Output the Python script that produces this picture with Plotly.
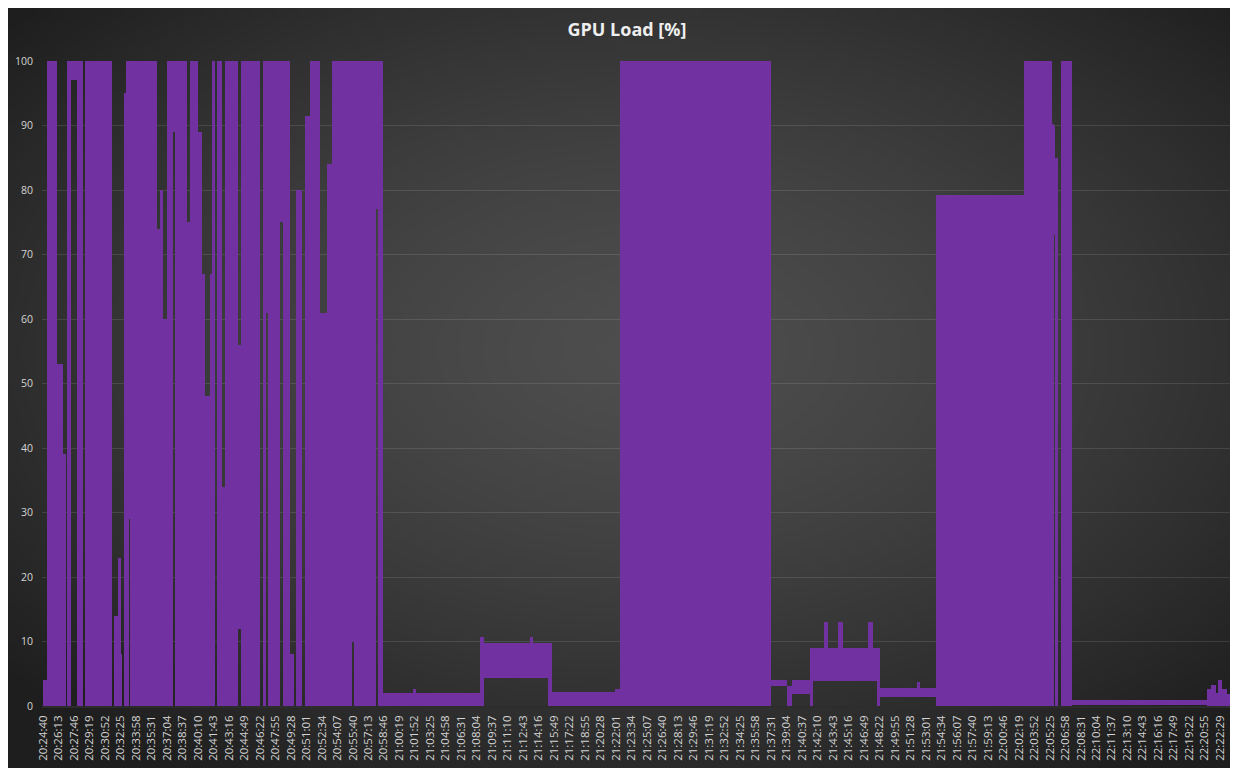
import base64
import struct
import zlib

import numpy as np
import plotly.graph_objects as go

# ---------------- data ----------------
tick_labels = [
    "20:24:40", "20:26:13", "20:27:46", "20:29:19", "20:30:52", "20:32:25", "20:33:58",
    "20:35:31", "20:37:04", "20:38:37", "20:40:10", "20:41:43", "20:43:16", "20:44:49",
    "20:46:22", "20:47:55", "20:49:28", "20:51:01", "20:52:34", "20:54:07", "20:55:40",
    "20:57:13", "20:58:46", "21:00:19", "21:01:52", "21:03:25", "21:04:58", "21:06:31",
    "21:08:04", "21:09:37", "21:11:10", "21:12:43", "21:14:16", "21:15:49", "21:17:22",
    "21:18:55", "21:20:28", "21:22:01", "21:23:34", "21:25:07", "21:26:40", "21:28:13",
    "21:29:46", "21:31:19", "21:32:52", "21:34:25", "21:35:58", "21:37:31", "21:39:04",
    "21:40:37", "21:42:10", "21:43:43", "21:45:16", "21:46:49", "21:48:22", "21:49:55",
    "21:51:28", "21:53:01", "21:54:34", "21:56:07", "21:57:40", "21:59:13", "22:00:46",
    "22:02:19", "22:03:52", "22:05:25", "22:06:58", "22:08:31", "22:10:04", "22:11:37",
    "22:13:10", "22:14:43", "22:16:16", "22:17:49", "22:19:22", "22:20:55", "22:22:29",
]

# Elapsed seconds (from 20:24:40) at which each stretch of samples starts,
# with the lowest and highest GPU load [%] seen in that stretch.
seg_start = [
    0, 24, 84, 120, 138, 144, 168, 204, 240, 252,
    414, 426, 450, 456, 468, 474, 486, 498, 516, 522,
    684, 702, 720, 744, 781, 793, 865, 883, 931, 955,
    973, 1003, 1015, 1033, 1045, 1075, 1093, 1171, 1189, 1303,
    1321, 1339, 1351, 1423, 1441, 1483, 1507, 1519, 1555, 1573,
    1603, 1663, 1705, 1735, 1855, 1867, 1999, 2011, 2041, 2221,
    2239, 2624, 2648, 2924, 2942, 3032, 3056, 3434, 3464, 4371,
    4467, 4497, 4605, 4623, 4689, 4713, 4773, 4803, 4953, 4983,
    5007, 5025, 5247, 5265, 5362, 5890, 6058, 6070, 6076, 6094,
    6112, 6178, 6989, 7013, 7043, 7055, 7079, 7109,
]
seg_low = [
    0, 0, 0, 0, 0, 0, 97, 0, 0, 0,
    0, 0, 0, 0, 0, 0, 0, 0, 29, 0,
    0, 0, 0, 0, 89, 0, 0, 0, 0, 0,
    0, 0, 0, 0, 0, 0, 0, 12, 0, 0,
    0, 61, 0, 75, 0, 0, 0, 0, 0, 0,
    0, 0, 0, 0, 10, 0, 77, 0, 0, 0,
    0, 0, 4.3, 4.3, 4.3, 0, 0, 0, 0, 3.1,
    0, 1.9, 0, 3.8, 3.8, 3.8, 3.8, 3.8, 3.8, 3.8,
    0, 1.4, 1.4, 1.4, 0, 0, 0, 73, 0, 0,
    0, 0.2, 0, 0, 0, 0, 0, 0,
]
seg_high = [
    4, 100, 53, 39, 0, 100, 100, 100, 0, 100,
    0, 14, 0, 23, 8, 0, 95, 100, 100, 100,
    74, 80, 60, 100, 100, 100, 75, 100, 89, 67,
    48, 67, 100, 0, 100, 34, 100, 56, 100, 0,
    100, 100, 100, 100, 100, 8, 0, 80, 0, 91.5,
    100, 61, 84, 100, 100, 100, 100, 100, 2.0, 2.6,
    2.0, 10.7, 9.8, 10.7, 9.8, 9.8, 2.1, 2.6, 100, 4.1,
    3.1, 4.1, 9.0, 9.0, 13.0, 9.0, 13.0, 9.0, 13.0, 9.0,
    9.0, 2.8, 3.7, 2.8, 79.2, 100, 90.3, 90, 85, 0,
    100, 0.9, 2.6, 3.2, 2.0, 4.1, 2.6, 1.8,
]
record_end = 7139  # elapsed seconds at the right edge of the record

y_ticks = [0, 10, 20, 30, 40, 50, 60, 70, 80, 90, 100]

# ---------------- derived ----------------
def to_sec(s):
    h, m, sec = (int(p) for p in s.split(":"))
    return h * 3600 + m * 60 + sec

t0 = to_sec(tick_labels[0])
tick_vals = [to_sec(s) - t0 for s in tick_labels]

starts = np.array(seg_start, dtype=float)
ends = np.append(starts[1:], record_end)
widths = ends - starts
centers = starts + widths / 2.0
lows = np.array(seg_low, dtype=float)
heights = np.array(seg_high, dtype=float) - lows

# ---------------- background gradient image ----------------
def make_png(img):
    h, w, _ = img.shape
    raw = b"".join(b"\x00" + img[i].tobytes() for i in range(h))

    def chunk(tag, data):
        c = struct.pack(">I", len(data)) + tag + data
        return c + struct.pack(">I", zlib.crc32(tag + data) & 0xFFFFFFFF)

    return (b"\x89PNG\r\n\x1a\n"
            + chunk(b"IHDR", struct.pack(">IIBBBBB", w, h, 8, 2, 0, 0, 0))
            + chunk(b"IDAT", zlib.compress(raw, 9))
            + chunk(b"IEND", b""))

GW, GH = 310, 190
yy, xx = np.mgrid[0:GH, 0:GW]
nx = xx / (GW - 1)
ny = yy / (GH - 1)
r = np.sqrt(((nx - 0.52) / 0.62) ** 2 + ((ny - 0.45) / 0.62) ** 2)
v = 78 - 42 * np.clip(r, 0, 1.3) ** 1.4
v = np.clip(v, 30, 90).astype(np.uint8)
img = np.stack([v, v, v], axis=-1)
bg_src = "data:image/png;base64," + base64.b64encode(make_png(img)).decode()

# ---------------- figure ----------------
# The page places the figure 8px from the top-left corner of the window.
W, H = 1230, 760
L, R, T, B = 34, 8, 53, 62
pw, ph = W - L - R, H - T - B

def px_to_paper_x(px):
    return (px - L) / pw

def py_to_paper_y(py):
    return (H - B - py) / ph

PURPLE = "#7131A1"

fig = go.Figure()
fig.add_trace(go.Bar(
    x=centers,
    y=heights,
    base=lows,
    width=widths,
    marker=dict(color=PURPLE, line=dict(width=0)),
    hoverinfo="skip",
    showlegend=False,
))

fig.update_layout(
    width=W,
    height=H,
    margin=dict(l=L, r=R, t=T, b=B, pad=0),
    paper_bgcolor="#2e2e2e",
    plot_bgcolor="rgba(0,0,0,0)",
    bargap=0,
    title=dict(
        text="<b>GPU Load [%]</b>",
        x=619 / W, xref="container", xanchor="center",
        y=1 - 22 / H, yref="container", yanchor="middle",
        font=dict(family="Open Sans, Roboto, sans-serif", size=18, color="#eeeeee"),
    ),
    images=[dict(
        source=bg_src,
        xref="paper", yref="paper",
        x=px_to_paper_x(0), y=py_to_paper_y(0),
        sizex=px_to_paper_x(W) - px_to_paper_x(0),
        sizey=py_to_paper_y(0) - py_to_paper_y(H),
        xanchor="left", yanchor="top",
        sizing="stretch", layer="below",
    )],
    font=dict(family="Open Sans, Roboto, sans-serif", color="#d4d4d4"),
)

fig.update_xaxes(
    type="linear",
    range=[-6, 7127],
    tickmode="array",
    tickvals=tick_vals,
    ticktext=tick_labels,
    tickangle=-90,
    tickfont=dict(size=11.5, color="#d4d4d4"),
    ticks="outside",
    ticklen=3,
    tickcolor="rgba(0,0,0,0)",
    showgrid=False,
    zeroline=False,
    showline=True,
    linecolor="rgba(45,45,45,0.9)",
    linewidth=1.5,
)
fig.update_yaxes(
    range=[0, 100],
    tickmode="array",
    tickvals=y_ticks,
    ticktext=[str(t) for t in y_ticks],
    tickfont=dict(size=10.5, color="#d4d4d4"),
    ticks="outside",
    ticklen=6,
    tickcolor="rgba(0,0,0,0)",
    showgrid=True,
    gridcolor="rgba(255,255,255,0.11)",
    gridwidth=1,
    zeroline=False,
    showline=False,
)

fig.write_html("out.html")
